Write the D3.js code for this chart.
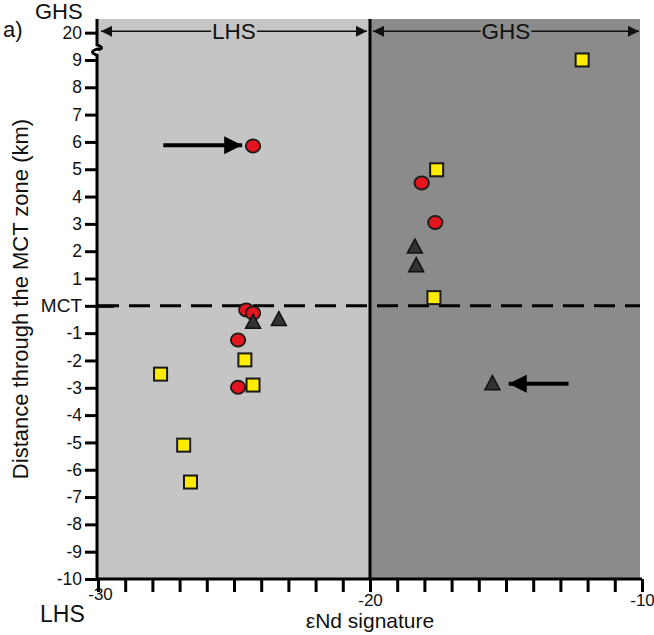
<!DOCTYPE html>
<html>
<head>
<meta charset="utf-8">
<style>
  body { margin: 0; background: #fff; }
  svg text { font-family: Arial, "Liberation Sans", Helvetica, sans-serif; fill: #111; }
</style>
</head>
<body>
<div id="chart"></div>
<script src="https://cdn.jsdelivr.net/npm/d3@7"></script>
<script>
// εNd value (x) and distance through the MCT zone in km (y); 0 = MCT
const circles = [
  { x: -24.3, y: 5.85 },
  { x: -18.1, y: 4.5 },
  { x: -17.6, y: 3.05 },
  { x: -24.55, y: -0.15 },
  { x: -24.3, y: -0.27 },
  { x: -24.85, y: -1.25 },
  { x: -24.85, y: -2.98 }
];
const squares = [
  { x: -12.2, y: 9.0 },
  { x: -17.55, y: 4.98 },
  { x: -17.65, y: 0.3 },
  { x: -27.7, y: -2.5 },
  { x: -24.6, y: -1.98 },
  { x: -24.3, y: -2.9 },
  { x: -26.85, y: -5.1 },
  { x: -26.6, y: -6.45 }
];
const triangles = [
  { x: -24.3, y: -0.6 },
  { x: -23.35, y: -0.5 },
  { x: -18.35, y: 2.15 },
  { x: -18.3, y: 1.47 },
  { x: -15.5, y: -2.85 }
];
// arrows pointing at highlighted samples: [from, to]
const pointers = [
  [{ x: -27.6, y: 5.88 }, { x: -24.7, y: 5.88 }],
  [{ x: -12.7, y: -2.85 }, { x: -15.5 + 0.6, y: -2.85 }]
];
const yTicks = [-10, -9, -8, -7, -6, -5, -4, -3, -2, -1, 0, 1, 2, 3, 4, 5, 6, 7, 8, 9, 10];
const yTickLabels = { 0: "MCT", 10: "20" };
const xTicks = d3.range(-30, -9, 1);
const xTickLabels = [-30, -20, -10];

const width = 654, height = 635;
const svg = d3.select("#chart").append("svg")
  .attr("width", width).attr("height", height);

const x = d3.scaleLinear().domain([-30, -10]).range([98, 642]);
const y = d3.scaleLinear().domain([-10, 10.5]).range([579, 19]);

// background zones
svg.append("rect")
  .attr("x", x(-30)).attr("y", y(10.5))
  .attr("width", x(-20) - x(-30)).attr("height", y(-10) - y(10.5))
  .attr("fill", "#c5c5c5");
svg.append("rect")
  .attr("x", x(-20)).attr("y", y(10.5))
  .attr("width", x(-10) - x(-20) - 2).attr("height", y(-10) - y(10.5))
  .attr("fill", "#8b8b8b");

// y axis (ticks only, domain drawn by hand for the break)
const yAxis = d3.axisLeft(y)
  .tickValues(yTicks)
  .tickSize(13)
  .tickPadding(3)
  .tickFormat(d => yTickLabels[d] !== undefined ? yTickLabels[d] : d);
const gy = svg.append("g").attr("transform", `translate(${x(-30)},0)`).call(yAxis);
gy.select(".domain").remove();
gy.selectAll(".tick line").attr("stroke", "#000").attr("stroke-width", 3);
gy.selectAll(".tick text").attr("font-size", 17.5).attr("fill", "#111");
// MCT tick crosses the axis
gy.selectAll(".tick").filter(d => d === 0).select("line").attr("x2", 16).attr("x1", -13);
gy.selectAll(".tick").filter(d => d === 0).select("text").attr("x", -16).attr("font-size", 19);

// broken axis line
const ax = x(-30) - 1;
const bTop = y(9.55), bBot = y(9.25);
svg.append("path")
  .attr("d", `M${ax},${y(10.5)} L${ax},${bTop} C${ax + 6},${bTop + 2} ${ax + 6},${bTop + 5} ${ax},${(bTop + bBot) / 2}` +
    ` C${ax - 6},${(bTop + bBot) / 2 + 2} ${ax - 6},${bBot} ${ax},${bBot + 2} L${ax},${y(-10)}`)
  .attr("fill", "none").attr("stroke", "#000").attr("stroke-width", 3);

// x axis
const xAxis = d3.axisBottom(x)
  .tickValues(xTicks)
  .tickSize(13)
  .tickPadding(2)
  .tickFormat(d => xTickLabels.includes(d) ? d : "");
const gx = svg.append("g").attr("transform", `translate(0,${y(-10)})`).call(xAxis);
gx.select(".domain").attr("stroke", "#000").attr("stroke-width", 3)
  .attr("d", `M${x(-30) - 1},0H${x(-10)}`);
gx.selectAll(".tick line").attr("stroke", "#000").attr("stroke-width", 3);
gx.selectAll(".tick text").attr("font-size", 17).attr("fill", "#111");
gx.selectAll(".tick").filter(d => d === -30).select("text").attr("y", 9).attr("x", 2);

// zone boundary at -20
svg.append("line")
  .attr("x1", x(-20)).attr("x2", x(-20))
  .attr("y1", y(10.5)).attr("y2", y(-10))
  .attr("stroke", "#000").attr("stroke-width", 3);

// MCT dashed line
svg.append("line")
  .attr("x1", x(-30)).attr("x2", x(-10) - 2)
  .attr("y1", y(0)).attr("y2", y(0))
  .attr("stroke", "#000").attr("stroke-width", 3)
  .attr("stroke-dasharray", "21,10");

// arrowheads
const defs = svg.append("defs");
defs.append("marker")
  .attr("id", "head").attr("viewBox", "0 0 10 10")
  .attr("refX", 10).attr("refY", 5)
  .attr("markerWidth", 11).attr("markerHeight", 11)
  .attr("markerUnits", "userSpaceOnUse")
  .attr("orient", "auto-start-reverse")
  .append("path").attr("d", "M0,0 L10,5 L0,10 Z").attr("fill", "#111");
defs.append("marker")
  .attr("id", "bighead").attr("viewBox", "0 0 10 10")
  .attr("refX", 10).attr("refY", 5)
  .attr("markerWidth", 20).attr("markerHeight", 18)
  .attr("markerUnits", "userSpaceOnUse")
  .attr("orient", "auto")
  .append("path").attr("d", "M0,0 L10,5 L0,10 Z").attr("fill", "#000");

// zone labels with double arrows
function zoneArrow(x0, x1, label) {
  const yy = y(10.05);
  const t = svg.append("text")
    .attr("x", (x(x0) + x(x1)) / 2).attr("y", yy + 8)
    .attr("text-anchor", "middle").attr("font-size", 22.5)
    .text(label);
  const w = t.node().getComputedTextLength();
  const cx = (x(x0) + x(x1)) / 2;
  svg.append("line")
    .attr("x1", cx - w / 2 - 1).attr("x2", x(x0) + 3).attr("y1", yy).attr("y2", yy)
    .attr("stroke", "#111").attr("stroke-width", 1.5).attr("marker-end", "url(#head)");
  svg.append("line")
    .attr("x1", cx + w / 2 + 1).attr("x2", x(x1) - 3).attr("y1", yy).attr("y2", yy)
    .attr("stroke", "#111").attr("stroke-width", 1.5).attr("marker-end", "url(#head)");
}
zoneArrow(-30, -20, "LHS");
zoneArrow(-20, -10, "GHS");

// pointer arrows
svg.append("g").selectAll("line").data(pointers).join("line")
  .attr("x1", d => x(d[0].x)).attr("y1", d => y(d[0].y))
  .attr("x2", d => x(d[1].x)).attr("y2", d => y(d[1].y))
  .attr("stroke", "#000").attr("stroke-width", 4)
  .attr("marker-end", "url(#bighead)");

// data symbols
svg.append("g").selectAll("ellipse").data(circles).join("ellipse")
  .attr("cx", d => x(d.x)).attr("cy", d => y(d.y))
  .attr("rx", 7.2).attr("ry", 6.6)
  .attr("fill", "#e3161f").attr("stroke", "#1a1a1a").attr("stroke-width", 1.8);

svg.append("g").selectAll("rect").data(squares).join("rect")
  .attr("x", d => x(d.x) - 6.5).attr("y", d => y(d.y) - 6.5)
  .attr("width", 13).attr("height", 13)
  .attr("fill", "#ffec00").attr("stroke", "#1a1a1a").attr("stroke-width", 2);

svg.append("g").selectAll("path").data(triangles).join("path")
  .attr("d", d => {
    const cx = x(d.x), cy = y(d.y);
    return `M${cx},${cy - 8} L${cx + 7.5},${cy + 6} L${cx - 7.5},${cy + 6} Z`;
  })
  .attr("fill", "#333").attr("stroke", "#111").attr("stroke-width", 1.5);

// titles and corner labels
svg.append("text")
  .attr("transform", `translate(28,299) rotate(-90)`)
  .attr("text-anchor", "middle").attr("font-size", 22)
  .text("Distance through the MCT zone (km)");
svg.append("text")
  .attr("x", x(-20)).attr("y", 628)
  .attr("text-anchor", "middle").attr("font-size", 21)
  .text("εNd signature");
svg.append("text").attr("x", 35).attr("y", 19).attr("font-size", 22).text("GHS");
svg.append("text").attr("x", 3).attr("y", 37).attr("font-size", 22).text("a)");
svg.append("text").attr("x", 40).attr("y", 622).attr("font-size", 23).text("LHS");
</script>
</body>
</html>
